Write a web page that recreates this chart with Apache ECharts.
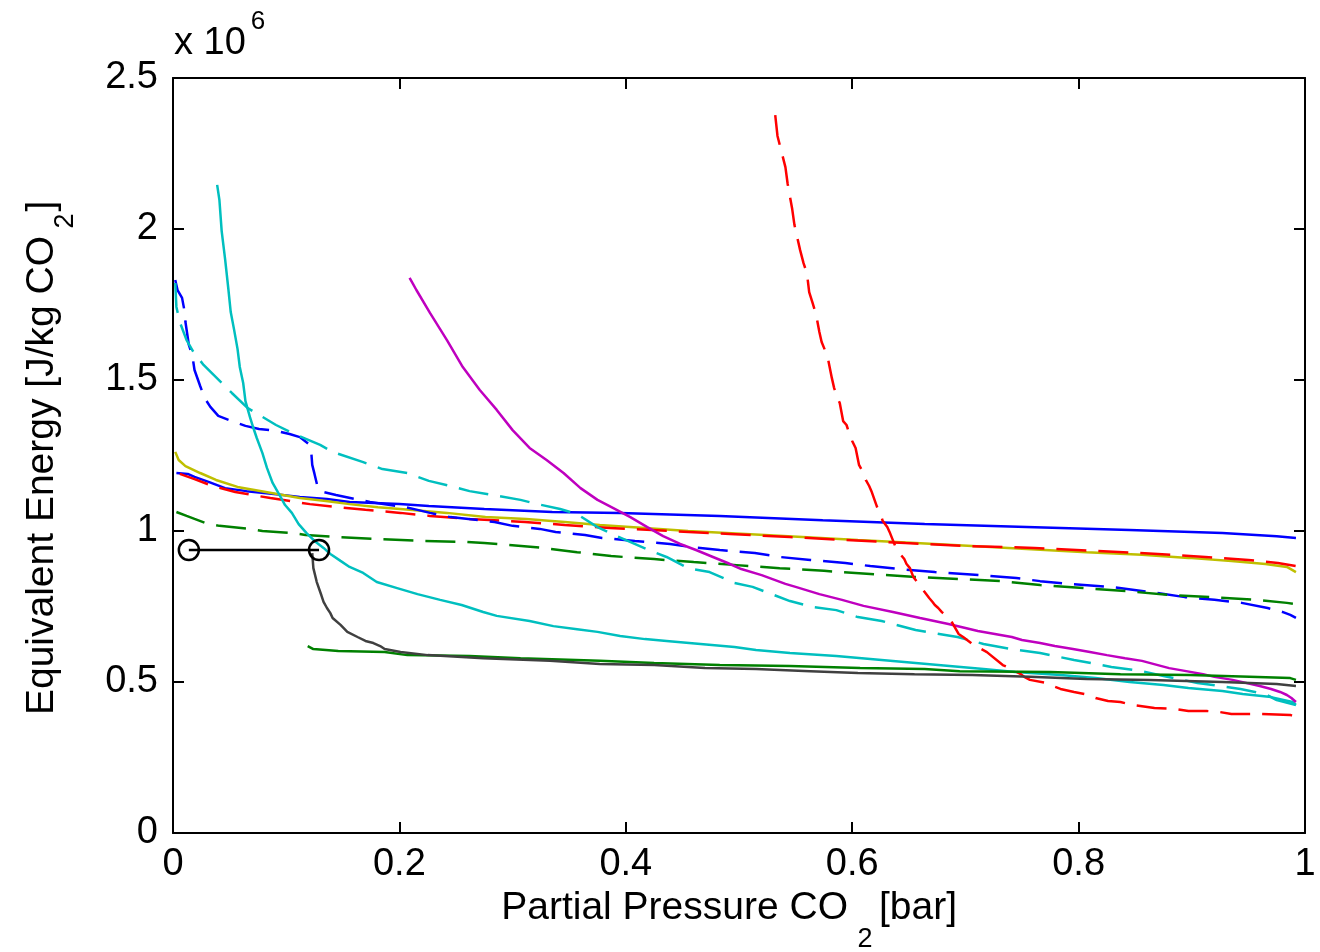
<!DOCTYPE html>
<html><head><meta charset="utf-8">
<script src="https://cdn.jsdelivr.net/npm/echarts@6/dist/echarts.min.js"></script>
<style>html,body{margin:0;padding:0;background:#fff}#c{width:1320px;height:952px}</style>
</head><body><div id="c"></div>
<script>
// Axis ticks (y in units of 1e6 J/kg CO2)
const xTicks = { min: 0, max: 1, interval: 0.2 };
const yTicks = { min: 0, max: 2.5, interval: 0.5 };

const blueSolid = [[0.003,1.192],[0.013,1.189],[0.019,1.179],[0.032,1.162],[0.046,1.142],[0.065,1.132],[0.087,1.123],[0.112,1.113],[0.136,1.106],[0.156,1.096],[0.200,1.089],[0.226,1.083],[0.275,1.073],[0.335,1.063],[0.395,1.060],[0.483,1.050],[0.574,1.036],[0.664,1.023],[0.754,1.013],[0.845,1.003],[0.927,0.993],[0.975,0.983],[0.992,0.977]];

const yellowSolid = [[0.002,1.262],[0.005,1.235],[0.011,1.215],[0.024,1.192],[0.038,1.169],[0.057,1.146],[0.087,1.126],[0.112,1.109],[0.135,1.099],[0.156,1.089],[0.181,1.079],[0.209,1.070],[0.242,1.060],[0.276,1.046],[0.312,1.040],[0.346,1.030],[0.377,1.020],[0.417,1.010],[0.455,1.000],[0.506,0.990],[0.556,0.980],[0.605,0.970],[0.656,0.960],[0.706,0.950],[0.754,0.940],[0.807,0.930],[0.856,0.921],[0.897,0.911],[0.935,0.901],[0.965,0.891],[0.984,0.881],[0.992,0.864]];

const redDashed = [[0.006,1.189],[0.019,1.172],[0.035,1.149],[0.055,1.129],[0.086,1.109],[0.121,1.089],[0.146,1.079],[0.170,1.070],[0.201,1.060],[0.227,1.050],[0.262,1.040],[0.311,1.030],[0.346,1.020],[0.386,1.010],[0.439,1.000],[0.492,0.990],[0.545,0.980],[0.595,0.970],[0.647,0.960],[0.704,0.950],[0.761,0.944],[0.816,0.934],[0.870,0.924],[0.912,0.914],[0.950,0.904],[0.976,0.894],[0.992,0.884]];

const blueDashed = [[0.002,1.831],[0.004,1.798],[0.008,1.772],[0.010,1.732],[0.011,1.692],[0.014,1.616],[0.017,1.583],[0.019,1.533],[0.024,1.480],[0.028,1.440],[0.033,1.411],[0.040,1.381],[0.052,1.364],[0.064,1.348],[0.076,1.338],[0.092,1.331],[0.103,1.321],[0.112,1.311],[0.120,1.288],[0.122,1.268],[0.123,1.219],[0.125,1.189],[0.128,1.142],[0.133,1.129],[0.144,1.119],[0.174,1.096],[0.205,1.079],[0.216,1.070],[0.227,1.060],[0.245,1.046],[0.261,1.040],[0.284,1.030],[0.300,1.017],[0.324,1.007],[0.338,0.997],[0.364,0.987],[0.379,0.977],[0.408,0.967],[0.439,0.957],[0.457,0.947],[0.483,0.937],[0.514,0.927],[0.536,0.914],[0.563,0.904],[0.594,0.894],[0.616,0.884],[0.642,0.874],[0.673,0.864],[0.713,0.854],[0.745,0.844],[0.766,0.834],[0.792,0.825],[0.828,0.815],[0.863,0.798],[0.894,0.781],[0.920,0.772],[0.944,0.762],[0.967,0.745],[0.980,0.732],[0.987,0.722],[0.992,0.712]];

const greenDashed = [[0.003,1.063],[0.012,1.050],[0.019,1.040],[0.029,1.026],[0.041,1.017],[0.068,1.007],[0.079,1.000],[0.106,0.993],[0.117,0.987],[0.144,0.980],[0.177,0.974],[0.220,0.967],[0.259,0.964],[0.275,0.960],[0.297,0.954],[0.327,0.944],[0.357,0.930],[0.387,0.917],[0.425,0.907],[0.460,0.897],[0.498,0.887],[0.536,0.877],[0.575,0.868],[0.616,0.858],[0.656,0.848],[0.695,0.841],[0.731,0.834],[0.766,0.821],[0.804,0.811],[0.842,0.801],[0.880,0.788],[0.919,0.781],[0.957,0.772],[0.984,0.762],[0.992,0.758]];

const cyanDashed = [[0.002,1.821],[0.003,1.742],[0.006,1.692],[0.012,1.632],[0.018,1.593],[0.027,1.550],[0.052,1.457],[0.066,1.407],[0.091,1.351],[0.105,1.325],[0.130,1.285],[0.141,1.262],[0.168,1.228],[0.185,1.205],[0.207,1.192],[0.226,1.166],[0.245,1.149],[0.262,1.132],[0.283,1.119],[0.307,1.103],[0.322,1.089],[0.342,1.073],[0.357,1.056],[0.375,1.013],[0.392,0.983],[0.422,0.934],[0.436,0.914],[0.455,0.877],[0.474,0.864],[0.496,0.828],[0.512,0.815],[0.526,0.795],[0.545,0.768],[0.566,0.748],[0.586,0.738],[0.605,0.715],[0.626,0.702],[0.656,0.672],[0.693,0.649],[0.716,0.626],[0.741,0.609],[0.766,0.596],[0.796,0.573],[0.829,0.550],[0.856,0.536],[0.875,0.520],[0.905,0.497],[0.943,0.477],[0.965,0.460],[0.975,0.440],[0.992,0.424]];

const cyanSolid = [[0.039,2.146],[0.041,2.096],[0.043,1.993],[0.046,1.901],[0.049,1.798],[0.051,1.725],[0.054,1.666],[0.057,1.603],[0.059,1.543],[0.062,1.490],[0.064,1.430],[0.068,1.377],[0.071,1.341],[0.074,1.308],[0.079,1.258],[0.083,1.209],[0.088,1.159],[0.095,1.113],[0.099,1.086],[0.105,1.060],[0.111,1.023],[0.118,0.993],[0.125,0.967],[0.133,0.944],[0.139,0.924],[0.148,0.901],[0.156,0.881],[0.168,0.861],[0.180,0.831],[0.198,0.811],[0.216,0.791],[0.236,0.772],[0.255,0.755],[0.274,0.732],[0.286,0.719],[0.315,0.702],[0.336,0.685],[0.357,0.675],[0.375,0.666],[0.395,0.652],[0.417,0.642],[0.436,0.636],[0.466,0.626],[0.496,0.616],[0.515,0.606],[0.545,0.596],[0.586,0.586],[0.616,0.576],[0.646,0.566],[0.686,0.553],[0.716,0.543],[0.744,0.533],[0.784,0.523],[0.815,0.513],[0.845,0.500],[0.875,0.490],[0.897,0.480],[0.927,0.470],[0.945,0.460],[0.970,0.450],[0.989,0.434],[0.992,0.424]];

const magentaSolid = [[0.209,1.838],[0.212,1.818],[0.215,1.798],[0.227,1.722],[0.242,1.632],[0.256,1.543],[0.271,1.467],[0.286,1.401],[0.300,1.334],[0.315,1.275],[0.330,1.235],[0.345,1.192],[0.360,1.142],[0.375,1.103],[0.389,1.076],[0.404,1.046],[0.419,1.013],[0.433,0.983],[0.448,0.957],[0.462,0.937],[0.477,0.914],[0.490,0.894],[0.502,0.874],[0.520,0.854],[0.541,0.825],[0.550,0.815],[0.571,0.791],[0.591,0.772],[0.610,0.752],[0.636,0.732],[0.660,0.712],[0.685,0.692],[0.700,0.679],[0.711,0.669],[0.726,0.659],[0.741,0.649],[0.750,0.639],[0.766,0.629],[0.779,0.619],[0.795,0.609],[0.810,0.599],[0.825,0.589],[0.841,0.579],[0.856,0.570],[0.870,0.556],[0.880,0.546],[0.895,0.536],[0.910,0.526],[0.920,0.517],[0.936,0.507],[0.960,0.487],[0.970,0.477],[0.978,0.467],[0.984,0.457],[0.988,0.447],[0.992,0.434]];

const redSteep = [[0.532,2.377],[0.534,2.308],[0.541,2.205],[0.543,2.149],[0.547,2.066],[0.549,2.013],[0.554,1.930],[0.557,1.887],[0.560,1.854],[0.562,1.791],[0.565,1.755],[0.568,1.719],[0.571,1.659],[0.573,1.626],[0.577,1.589],[0.579,1.563],[0.582,1.507],[0.584,1.474],[0.587,1.440],[0.589,1.424],[0.592,1.364],[0.595,1.351],[0.597,1.328],[0.600,1.298],[0.603,1.275],[0.606,1.219],[0.610,1.192],[0.612,1.169],[0.615,1.149],[0.617,1.132],[0.622,1.079],[0.625,1.056],[0.627,1.033],[0.631,1.013],[0.633,0.997],[0.638,0.950],[0.640,0.940],[0.643,0.921],[0.646,0.907],[0.648,0.891],[0.651,0.877],[0.654,0.848],[0.662,0.808],[0.664,0.798],[0.668,0.778],[0.671,0.765],[0.673,0.755],[0.676,0.745],[0.679,0.732],[0.682,0.722],[0.686,0.712],[0.694,0.659],[0.698,0.649],[0.705,0.629],[0.708,0.619],[0.714,0.609],[0.719,0.599],[0.733,0.556],[0.739,0.546],[0.744,0.536],[0.749,0.526],[0.752,0.517],[0.757,0.507],[0.771,0.497],[0.777,0.487],[0.784,0.477],[0.796,0.467],[0.809,0.457],[0.815,0.447],[0.826,0.437],[0.837,0.434],[0.847,0.424],[0.867,0.414],[0.885,0.411],[0.897,0.404],[0.913,0.404],[0.924,0.401],[0.935,0.394],[0.962,0.394],[0.987,0.391],[0.992,0.384]];

const greenSolid = [[0.119,0.619],[0.124,0.609],[0.146,0.603],[0.187,0.599],[0.207,0.589],[0.262,0.586],[0.307,0.579],[0.377,0.570],[0.425,0.563],[0.483,0.556],[0.545,0.553],[0.607,0.546],[0.664,0.543],[0.695,0.536],[0.775,0.533],[0.837,0.526],[0.898,0.523],[0.951,0.517],[0.987,0.513],[0.992,0.507]];

const graySolid = [[0.123,0.927],[0.124,0.877],[0.127,0.831],[0.131,0.788],[0.133,0.765],[0.136,0.745],[0.139,0.728],[0.141,0.712],[0.148,0.689],[0.154,0.666],[0.163,0.649],[0.170,0.636],[0.177,0.629],[0.183,0.619],[0.187,0.609],[0.201,0.599],[0.225,0.589],[0.274,0.579],[0.333,0.570],[0.377,0.560],[0.425,0.556],[0.470,0.546],[0.515,0.543],[0.563,0.536],[0.605,0.530],[0.655,0.526],[0.706,0.523],[0.757,0.517],[0.807,0.510],[0.863,0.507],[0.927,0.500],[0.975,0.493],[0.992,0.487]];

const blackMarked = [[0.014,0.937],[0.129,0.937]];

const FONT = '"Liberation Sans", Arial, Helvetica, sans-serif';
const W = 2.5;
const DASH = [30, 12];

function line(data, color, dashed, z) {
  return {
    type: 'line', data: data, showSymbol: false, symbol: 'none',
    xAxisIndex: 0, yAxisIndex: 0, z: z || 2,
    lineStyle: { color: color, width: W, type: dashed ? DASH : 'solid' },
    itemStyle: { color: color }, silent: true
  };
}

const axisCommon = {
  type: 'value', splitLine: { show: false },
  axisLine: { show: true, onZero: false, lineStyle: { color: '#000', width: 2 } },
  axisTick: { show: true, inside: true, length: 11, lineStyle: { color: '#000', width: 2 } }
};

const chart = echarts.init(document.getElementById('c'), null, { renderer: 'canvas' });
chart.setOption({
  animation: false,
  backgroundColor: '#fff',
  grid: { left: 173, right: 15, top: 78, bottom: 119, containLabel: false, outerBoundsMode: 'none' },
  xAxis: [
    Object.assign({}, axisCommon, { position: 'bottom', min: xTicks.min, max: xTicks.max, interval: xTicks.interval,
      axisLabel: { show: true, fontSize: 38, fontFamily: FONT, color: '#000', margin: 13, showMinLabel: true, showMaxLabel: true } }),
    Object.assign({}, axisCommon, { position: 'top', min: xTicks.min, max: xTicks.max, interval: xTicks.interval,
      axisLabel: { show: false } })
  ],
  yAxis: [
    Object.assign({}, axisCommon, { position: 'left', min: yTicks.min, max: yTicks.max, interval: yTicks.interval,
      axisLabel: { show: true, fontSize: 38, fontFamily: FONT, color: '#000', margin: 15, showMinLabel: true, showMaxLabel: true } }),
    Object.assign({}, axisCommon, { position: 'right', min: yTicks.min, max: yTicks.max, interval: yTicks.interval,
      axisLabel: { show: false } })
  ],
  series: [
    line(blueSolid, '#0000ff', false, 2),
    line(yellowSolid, '#bfbf00', false, 2),
    line(redDashed, '#ff0000', true, 2),
    line(blueDashed, '#0000ff', true, 2),
    line(greenDashed, '#008000', true, 2),
    line(cyanDashed, '#00bfbf', true, 2),
    line(cyanSolid, '#00bfbf', false, 2),
    line(magentaSolid, '#bf00bf', false, 2),
    line(redSteep, '#ff0000', true, 2),
    line(greenSolid, '#008000', false, 2),
    line(graySolid, '#404040', false, 2),
    {
      type: 'line', data: blackMarked, symbol: 'circle', symbolSize: 20, showSymbol: true, z: 5, silent: true,
      lineStyle: { color: '#000', width: 2.5 },
      itemStyle: { color: 'rgba(0,0,0,0)', borderColor: '#000', borderWidth: 2.5 }
    }
  ],
  graphic: [
    { type: 'text', x: 848, y: 908, style: { text: 'Partial Pressure CO', font: '39px ' + FONT, fill: '#000', align: 'right', verticalAlign: 'middle', textAlign: 'right', textVerticalAlign: 'middle' } },
    { type: 'text', x: 865, y: 940, style: { text: '2', font: '27px ' + FONT, fill: '#000', align: 'center', verticalAlign: 'middle', textAlign: 'center', textVerticalAlign: 'middle' } },
    { type: 'text', x: 879, y: 908, style: { text: '[bar]', font: '39px ' + FONT, fill: '#000', align: 'left', verticalAlign: 'middle', textAlign: 'left', textVerticalAlign: 'middle' } },
    { type: 'text', x: 42, y: 236, rotation: Math.PI / 2, style: { text: 'Equivalent Energy [J/kg CO', font: '39px ' + FONT, fill: '#000', align: 'right', verticalAlign: 'middle', textAlign: 'right', textVerticalAlign: 'middle' } },
    { type: 'text', x: 66, y: 221, rotation: Math.PI / 2, style: { text: '2', font: '27px ' + FONT, fill: '#000', align: 'center', verticalAlign: 'middle', textAlign: 'center', textVerticalAlign: 'middle' } },
    { type: 'text', x: 42, y: 206, rotation: Math.PI / 2, style: { text: ']', font: '39px ' + FONT, fill: '#000', align: 'center', verticalAlign: 'middle', textAlign: 'center', textVerticalAlign: 'middle' } },
    { type: 'text', x: 174, y: 44, style: { text: 'x 10', font: '38px ' + FONT, fill: '#000', align: 'left', verticalAlign: 'middle', textAlign: 'left', textVerticalAlign: 'middle' } },
    { type: 'text', x: 258, y: 22, style: { text: '6', font: '26px ' + FONT, fill: '#000', align: 'center', verticalAlign: 'middle', textAlign: 'center', textVerticalAlign: 'middle' } }
  ]
});
</script>
</body></html>
